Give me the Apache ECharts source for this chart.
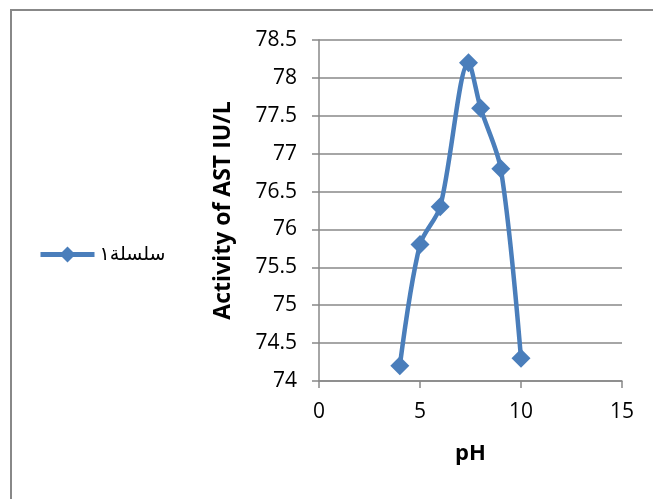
<!DOCTYPE html>
<html>
<head>
<meta charset="utf-8">
<script src="https://cdn.jsdelivr.net/npm/echarts@6/dist/echarts.min.js"></script>
<style>
  html, body { margin: 0; padding: 0; background: #fff; }
  #chart { width: 653px; height: 499px; }
</style>
</head>
<body>
<div id="chart"></div>
<script>
// pH vs AST activity measurements
const seriesName = 'سلسلة١';
const phValues = [4, 5, 6, 7.4, 8, 9, 10];
const astActivity = [74.2, 75.8, 76.3, 78.2, 77.6, 76.8, 74.3];
const xTicks = [0, 5, 10, 15];
const yTicks = [74, 74.5, 75, 75.5, 76, 76.5, 77, 77.5, 78, 78.5];

const FONT = '"Open Sans", "DejaVu Sans", sans-serif';
const GRAY = '#888888';
const BLUE = '#4a7ebb';

const chart = echarts.init(document.getElementById('chart'), null, { renderer: 'canvas' });

chart.setOption({
  backgroundColor: '#ffffff',
  animation: false,
  graphic: [{
    type: 'rect',
    shape: { x: 11, y: 10, width: 700, height: 600 },
    style: { fill: 'none', stroke: GRAY, lineWidth: 2 },
    silent: true
  }],
  legend: {
    left: 33,
    top: 240,
    orient: 'vertical',
    itemWidth: 54,
    itemHeight: 20,
    itemGap: 6,
    lineStyle: { width: 5, color: BLUE },
    textStyle: { fontFamily: FONT, fontSize: 19, color: '#000' },
    data: [seriesName]
  },
  grid: { left: 319, right: 31, top: 40, bottom: 118, containLabel: false },
  xAxis: {
    type: 'value',
    min: xTicks[0],
    max: xTicks[xTicks.length - 1],
    interval: 5,
    name: 'pH',
    nameLocation: 'middle',
    nameGap: 62,
    nameTextStyle: { fontFamily: FONT, fontSize: 22, fontWeight: 'bold', color: '#000' },
    axisLine: { show: true, lineStyle: { color: GRAY, width: 1.5 } },
    axisTick: { show: true, length: 7, inside: false, lineStyle: { color: GRAY, width: 1.5 } },
    axisLabel: { fontFamily: FONT, fontSize: 21, color: '#000', margin: 21 },
    splitLine: { show: false }
  },
  yAxis: {
    type: 'value',
    min: yTicks[0],
    max: yTicks[yTicks.length - 1],
    interval: 0.5,
    name: 'Activity of AST IU/L',
    nameLocation: 'middle',
    nameRotate: 90,
    nameGap: 84,
    nameTextStyle: { fontFamily: FONT, fontSize: 23, fontWeight: 'bold', color: '#000' },
    axisLine: { show: true, lineStyle: { color: GRAY, width: 1.5 } },
    axisTick: { show: true, length: 7, inside: false, lineStyle: { color: GRAY, width: 1.5 } },
    axisLabel: { fontFamily: FONT, fontSize: 21, color: '#000', margin: 22 },
    splitLine: { show: true, lineStyle: { color: GRAY, width: 1.5 } }
  },
  series: [{
    name: seriesName,
    type: 'line',
    data: phValues.map((x, i) => [x, astActivity[i]]),
    smooth: 0.3,
    symbol: 'diamond',
    symbolSize: 19,
    showSymbol: true,
    lineStyle: { color: BLUE, width: 4.5 },
    itemStyle: { color: BLUE }
  }]
});
</script>
</body>
</html>
